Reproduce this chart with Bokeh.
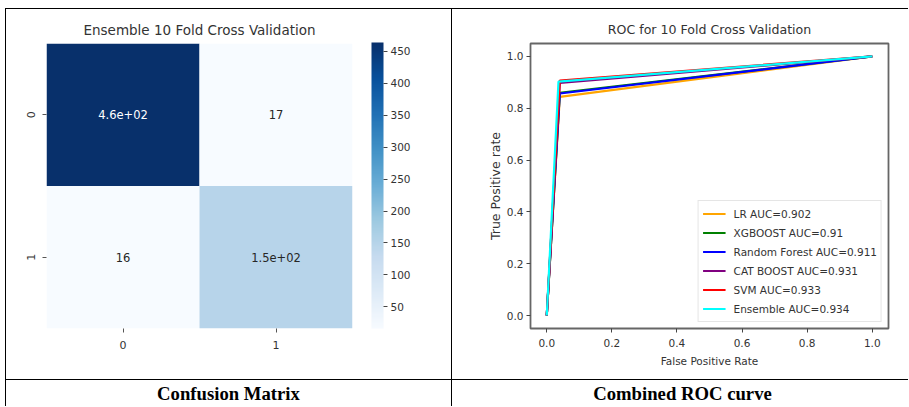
from bokeh.plotting import figure
from bokeh.models import (ColumnDataSource, Range1d, FactorRange, LinearColorMapper, ColorBar,
                          FixedTicker, PrintfTickFormatter, Label, Legend, LegendItem, Spacer)
from bokeh.layouts import row, column
from bokeh.palettes import Blues256
from bokeh.embed import file_html
from bokeh.resources import INLINE
from bokeh.core.properties import value

# ---------------- data ----------------
class_labels = ["0", "1"]
cm_actual = ["0", "0", "1", "1"]
cm_pred = ["0", "1", "0", "1"]
cm_counts = [464, 17, 16, 150]
cm_text = ["4.6e+02", "17", "16", "1.5e+02"]
cbar_ticks = [50, 100, 150, 200, 250, 300, 350, 400, 450]

models = ["LR", "XGBOOST", "Random Forest", "CAT BOOST", "SVM", "Ensemble"]
aucs = [0.902, 0.91, 0.911, 0.931, 0.933, 0.934]
fpr_lr = [0.0, 0.040, 1.0]
tpr_lr = [0.0, 0.844, 1.0]
fpr_xgb = [0.0, 0.040, 1.0]
tpr_xgb = [0.0, 0.860, 1.0]
fpr_rf = [0.0, 0.040, 1.0]
tpr_rf = [0.0, 0.857, 1.0]
fpr_cat = [0.0, 0.040, 1.0]
tpr_cat = [0.0, 0.898, 1.0]
fpr_svm = [0.0, 0.040, 1.0]
tpr_svm = [0.0, 0.907, 1.0]
fpr_ens = [0.0, 0.036, 1.0]
tpr_ens = [0.0, 0.903, 1.0]
roc_ticks = [0.0, 0.2, 0.4, 0.6, 0.8, 1.0]

# ---------------- styles ----------------
FONT = "DejaVu Sans"
SERIF = "Liberation Serif"
TXT = "#333333"
ROW_H = 370
CAP_H = 26
line_colors = ["#FFA500", "#008000", "#0000FF", "#800080", "#FF0000", "#00FFFF"]


def blank(w, h):
    return Spacer(width=w, height=h)


def bar(w, h):
    return Spacer(width=w, height=h, styles={"background-color": "black"})


# ---------------- confusion matrix ----------------
W1, FL1, FT1, FW1, FH1 = 445, 40, 34, 306, 286
FB1 = FT1 + FH1
p1 = figure(width=W1, height=ROW_H, x_range=FactorRange(*class_labels),
            y_range=FactorRange(*reversed(class_labels)),
            title="Ensemble 10 Fold Cross Validation",
            output_backend="svg", toolbar_location=None,
            min_border_left=FL1, min_border_right=W1 - FL1 - FW1,
            min_border_top=FT1, min_border_bottom=ROW_H - FB1)
mapper = LinearColorMapper(palette=list(reversed(Blues256)), low=min(cm_counts), high=max(cm_counts))
mid = (min(cm_counts) + max(cm_counts)) / 2
src = ColumnDataSource(dict(actual=cm_actual, pred=cm_pred, count=cm_counts, label=cm_text,
                            tcolor=["white" if c > mid else "#262626" for c in cm_counts]))
p1.rect(x="pred", y="actual", width=1, height=1, source=src,
        fill_color={"field": "count", "transform": mapper}, line_color=None)
p1.text(x="pred", y="actual", text="label", text_color="tcolor", source=src,
        text_align="center", text_baseline="middle",
        text_font=value(FONT), text_font_size="11.5px")
p1.grid.visible = False
p1.outline_line_color = None
for ax in (p1.xaxis, p1.yaxis):
    ax.axis_line_color = None
    ax.major_tick_in = 0
    ax.major_tick_out = 4
    ax.major_tick_line_color = "#555555"
    ax.major_label_text_font = FONT
    ax.major_label_text_font_size = "11px"
    ax.major_label_text_color = TXT
    ax.major_label_standoff = 8
p1.yaxis.major_label_orientation = "vertical"

cbar = ColorBar(color_mapper=mapper, ticker=FixedTicker(ticks=cbar_ticks),
                location=(FW1 + 19, 0), width=12, height=FH1, padding=0, margin=0,
                major_tick_in=0, major_tick_out=4, major_tick_line_color="#444444",
                minor_tick_line_color=None, bar_line_color=None,
                major_label_text_font=FONT, major_label_text_font_size="10.5px",
                major_label_text_color=TXT, label_standoff=3,
                background_fill_color=None, border_line_color=None)
p1.add_layout(cbar)

# ---------------- ROC ----------------
W2, FL2, FT2, FW2, FH2 = 456, 78, 33, 358, 286
FB2 = FT2 + FH2
p2 = figure(width=W2, height=ROW_H, x_range=Range1d(-0.05, 1.05), y_range=Range1d(-0.05, 1.05),
            title="ROC for 10 Fold Cross Validation",
            output_backend="svg", toolbar_location=None,
            min_border_left=FL2, min_border_right=W2 - FL2 - FW2,
            min_border_top=FT2, min_border_bottom=ROW_H - FB2)
p2.grid.visible = False
p2.outline_line_color = "#666666"
p2.outline_line_width = 1.8
fprs = [fpr_lr, fpr_xgb, fpr_rf, fpr_cat, fpr_svm, fpr_ens]
tprs = [tpr_lr, tpr_xgb, tpr_rf, tpr_cat, tpr_svm, tpr_ens]
items = []
for name, a, fx, ty, col in zip(models, aucs, fprs, tprs, line_colors):
    r = p2.line(fx, ty, line_color=col, line_width=2.2)
    items.append(LegendItem(label=f"{name} AUC={a}", renderers=[r]))
legend = Legend(items=items, location="bottom_right", margin=6, padding=4, spacing=2,
                label_height=17, glyph_height=17, glyph_width=23, label_standoff=8,
                label_text_font=FONT, label_text_font_size="10.5px", label_text_color=TXT,
                border_line_color="#cccccc", border_line_width=1,
                background_fill_color="white", background_fill_alpha=0.85)
p2.add_layout(legend)
for ax in (p2.xaxis, p2.yaxis):
    ax.ticker = FixedTicker(ticks=roc_ticks)
    ax.formatter = PrintfTickFormatter(format="%.1f")
    ax.axis_line_color = None
    ax.major_tick_in = 0
    ax.major_tick_out = 4
    ax.major_tick_line_color = "#444444"
    ax.minor_tick_line_color = None
    ax.major_label_text_font = FONT
    ax.major_label_text_font_size = "10.5px"
    ax.major_label_text_color = TXT
    ax.axis_label_text_font = FONT
    ax.axis_label_text_font_style = "normal"
    ax.axis_label_text_color = TXT
p2.xaxis.axis_label = "False Positive Rate"
p2.xaxis.axis_label_text_font_size = "10.5px"
p2.xaxis.major_label_standoff = 6
p2.xaxis.axis_label_standoff = 5
p2.yaxis.axis_label = "True Positive rate"
p2.yaxis.axis_label_text_font_size = "12.5px"
p2.yaxis.major_label_standoff = 3
p2.yaxis.axis_label_standoff = 1

# ---------------- titles ----------------
for p, size, so in ((p1, "13.5px", 11), (p2, "12.6px", 13)):
    p.title.align = "center"
    p.title.text_font = FONT
    p.title.text_font_size = size
    p.title.text_font_style = "normal"
    p.title.text_color = TXT
    p.title.standoff = so


# ---------------- captions ----------------
def caption(w, text, cx):
    c = figure(width=w, height=CAP_H, x_range=Range1d(0, 1), y_range=Range1d(0, 1),
               output_backend="svg", toolbar_location=None, min_border=0)
    c.axis.visible = False
    c.grid.visible = False
    c.outline_line_color = None
    c.add_layout(Label(x=cx, y=CAP_H / 2, x_units="screen", y_units="screen", text=text,
                       text_align="center", text_baseline="middle",
                       text_font=SERIF, text_font_style="bold", text_font_size="18.7px",
                       text_color="black"))
    return c


c1 = caption(W1, "Confusion Matrix", 222)
c2 = caption(W2, "Combined ROC curve", 230)

TOTAL_W = 5 + 1 + W1 + 1 + W2
layout = column(
    blank(TOTAL_W, 8),
    row(blank(5, 1), bar(TOTAL_W - 5, 1)),
    row(blank(5, ROW_H), bar(1, ROW_H), p1, bar(1, ROW_H), p2),
    row(blank(5, 1), bar(TOTAL_W - 5, 1)),
    row(blank(5, CAP_H), bar(1, CAP_H), c1, bar(1, CAP_H), c2),
)
open("out.html", "w").write(file_html(layout, INLINE))
